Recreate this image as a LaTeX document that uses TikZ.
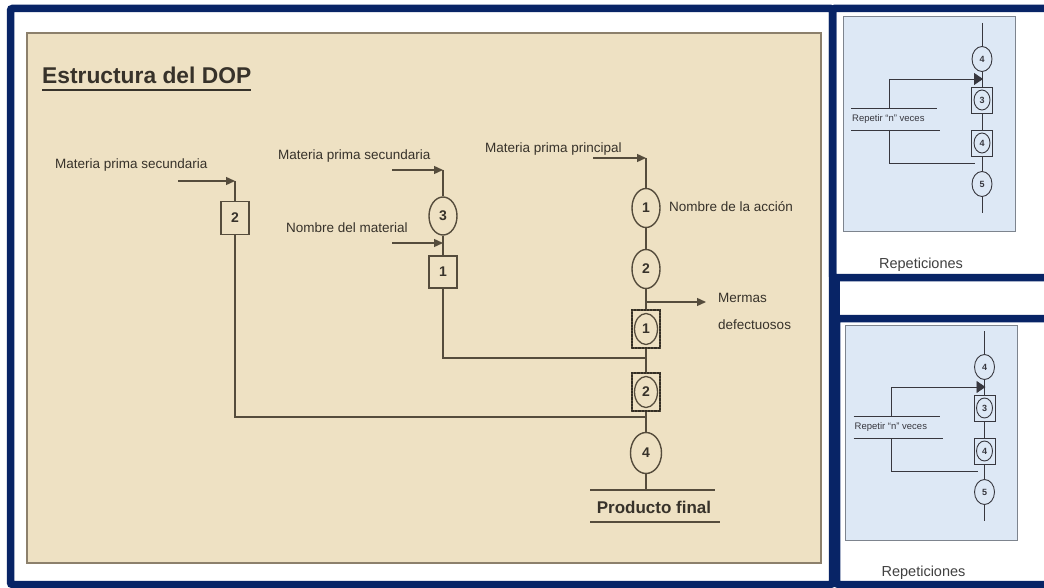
\documentclass[tikz,border=0pt]{standalone}
\usepackage{fontspec}
\setmainfont{Liberation Sans}
\usetikzlibrary{arrows.meta,shapes.geometric}
\definecolor{navy}{RGB}{8,36,102}
\definecolor{parch}{RGB}{238,225,195}
\definecolor{parchedge}{RGB}{140,128,108}
\definecolor{ink}{RGB}{85,76,60}
\definecolor{txt}{RGB}{55,50,42}
\definecolor{bluefill}{RGB}{221,232,245}
\definecolor{blueedge}{RGB}{125,132,142}
\definecolor{bink}{RGB}{55,55,62}
\begin{document}
\begin{tikzpicture}[x=1pt,y=-1pt,
  line/.style={draw=ink, line width=1.4pt},
  arr/.style={line, -{Triangle[width=8pt,length=9pt]}},
  lbl/.style={text=txt, inner sep=0pt, anchor=west, font=\fontsize{13.5}{14}\selectfont},
  circ/.style={ellipse, draw=ink, fill=parch, line width=1.4pt, minimum width=28pt, minimum height=39pt, inner sep=0pt, text=txt, font=\bfseries\fontsize{14}{14}\selectfont},
  sqbox/.style={rectangle, draw=ink, fill=parch, line width=1.4pt, minimum width=28pt, minimum height=33pt, inner sep=0pt, text=txt, font=\bfseries\fontsize{14}{14}\selectfont},
  opsq/.style={rectangle, draw=ink, fill=parch, line width=1.6pt, minimum width=28pt, minimum height=38pt, inner sep=0pt},
  opdots/.style={rectangle, draw=ink!60!black, line width=2.2pt, densely dotted, minimum width=28pt, minimum height=38pt, inner sep=0pt},
  incirc/.style={ellipse, draw=ink, fill=parch, line width=1.3pt, minimum width=23pt, minimum height=31pt, inner sep=0pt, text=txt, font=\bfseries\fontsize{14}{14}\selectfont},
  bline/.style={draw=bink, line width=0.9pt},
  bcirc/.style={ellipse, draw=bink, fill=bluefill, line width=0.9pt, minimum width=20pt, minimum height=25pt, inner sep=0pt, text=bink, font=\bfseries\fontsize{9}{9}\selectfont},
  bsq/.style={rectangle, draw=bink, fill=bluefill, line width=0.9pt, minimum width=21pt, minimum height=26pt, inner sep=0pt},
  bincirc/.style={ellipse, draw=bink, fill=bluefill, line width=0.9pt, minimum width=16pt, minimum height=20pt, inner sep=0pt, text=bink, font=\bfseries\fontsize{9}{9}\selectfont},
  frame/.style={draw=navy, line width=7.5pt, rounded corners=2pt}
]
\useasboundingbox (0,0) rectangle (1044,588);
\fill[white] (0,0) rectangle (1044,588);

% frames
\draw[frame] (10.5,8.5) rectangle (832.5,584.5);
\draw[frame] (832.5,8.5) rectangle (1060,277.5);
\draw[frame] (836.5,318.5) rectangle (1060,584.5);
\draw[draw=navy, line width=7.5pt] (836.5,277.5) -- (836.5,318.5);

% parchment panel
\draw[draw=parchedge, line width=1.6pt, fill=parch] (27,33) rectangle (821,563);

% title
\node[text=txt, inner sep=0pt, anchor=base west, font=\bfseries\fontsize{22.8}{23}\selectfont] (title) at (42,84) {Estructura del DOP};
\draw[draw=txt, line width=2.2pt] ([yshift=-6pt]title.base west) -- ([yshift=-6pt]title.base east);

% left branch
\node[lbl] (labL) at (55,165) {Materia prima secundaria};
\coordinate (inL) at (178,181);
\coordinate (tL) at (235,181);
\node[sqbox] (s2) at (235,218) {2};
\draw[arr] (inL) -- (tL);
\draw[line] (tL) -- (s2.north);

% middle branch
\node[lbl] (labM) at (278,156) {Materia prima secundaria};
\coordinate (inM) at (392,170);
\coordinate (tM) at (443,170);
\node[circ, minimum height=38pt] (c3) at (443,216) {3};
\node[lbl] (labN) at (286,228) {Nombre del material};
\coordinate (inN) at (392,243);
\coordinate (tN) at (443,243);
\node[sqbox, minimum height=32pt] (s1) at (443,272) {1};
\draw[arr] (inM) -- (tM);
\draw[line] (tM) -- (c3.north);
\draw[line] (c3.south) -- (s1.north);
\draw[arr] (inN) -- (tN);

% main line
\node[lbl] (labP) at (485,149) {Materia prima principal};
\coordinate (inP) at (593,158);
\coordinate (tP) at (646,158);
\node[circ] (c1) at (646,208) {1};
\node[lbl] (labA) at (669,207) {Nombre de la acción};
\node[circ] (c2) at (646,269) {2};
\coordinate (mer0) at (647,302);
\coordinate (mer1) at (706,302);
\node[lbl] (labMe) at (718,298) {Mermas};
\node[lbl] (labDe) at (718,325) {defectuosos};
\node[opsq] (m1s) at (646,329) {};
\node[opdots] (m1d) at (646,329) {};
\node[incirc] (m1) at (646,329) {1};
\node[opsq] (m2s) at (646,392) {};
\node[opdots] (m2d) at (646,392) {};
\node[incirc] (m2) at (646,392) {2};
\node[circ, minimum width=31pt, minimum height=41pt] (c4) at (646,453) {4};
\coordinate (jA) at (646,358);
\coordinate (jB) at (646,417);
\coordinate (pfc) at (646,490);
\coordinate (pf1) at (590,490);
\coordinate (pf2) at (715,490);
\coordinate (pf3) at (590,522);
\coordinate (pf4) at (720,522);
\node[text=txt, inner sep=0pt, font=\bfseries\fontsize{17}{17}\selectfont] (prod) at (654,507) {Producto final};

\draw[arr] (inP) -- (tP);
\draw[line] (tP) -- (c1.north);
\draw[line] (c1.south) -- (c2.north);
\draw[line] (c2.south) -- (m1s.north);
\draw[arr] (mer0) -- (mer1);
\draw[line] (m1s.south) -- (m2s.north);
\draw[line] (m2s.south) -- (c4.north);
\draw[line] (c4.south) -- (pfc);
\draw[line] (s1.south) |- (jA);
\draw[line] (s2.south) |- (jB);
\draw[line] (pf1) -- (pf2);
\draw[line] (pf3) -- (pf4);

% repetition panels
\foreach \s/\dx/\dy in {a/0/0, b/2.5/308}{
\begin{scope}[shift={(\dx,\dy)}]
  \draw[draw=blueedge, fill=bluefill, line width=1pt] (843,17) rectangle (1015,232);
  \coordinate (top\s) at (982,23);
  \coordinate (bot\s) at (982,213);
  \draw[bline] (top\s) -- (bot\s);
  \node[bcirc] (r4\s) at (982,59) {4};
  \node[bsq] (q3\s) at (982,100) {};
  \node[bincirc] (q3c\s) at (982,100) {3};
  \node[bsq] (q4\s) at (982,143) {};
  \node[bincirc] (q4c\s) at (982,143) {4};
  \node[bcirc] (r5\s) at (982,184) {5};
  \coordinate (al\s) at (889,79);
  \coordinate (at\s) at (983,79);
  \coordinate (lu\s) at (889,108);
  \coordinate (ll\s) at (889,130);
  \coordinate (lb\s) at (889,163);
  \coordinate (le\s) at (975,163);
  \coordinate (ra\s) at (851,108);
  \coordinate (rb\s) at (937,108);
  \coordinate (rc\s) at (851,130);
  \coordinate (rd\s) at (940,130);
  \draw[bline, -{Triangle[width=12pt,length=9pt]}] (al\s) -- (at\s);
  \draw[bline] (al\s) -- (lu\s);
  \draw[bline] (ll\s) -- (lb\s) -- (le\s);
  \draw[bline] (ra\s) -- (rb\s);
  \draw[bline] (rc\s) -- (rd\s);
  \node[text=bink, inner sep=0pt, anchor=west, font=\fontsize{9.5}{10}\selectfont] (rt\s) at (852,119) {Repetir “n” veces};
  \node[text=black!75, inner sep=0pt, font=\fontsize{14.5}{15}\selectfont] (rep\s) at (921,265) {Repeticiones};
\end{scope}}
\end{tikzpicture}
\end{document}
